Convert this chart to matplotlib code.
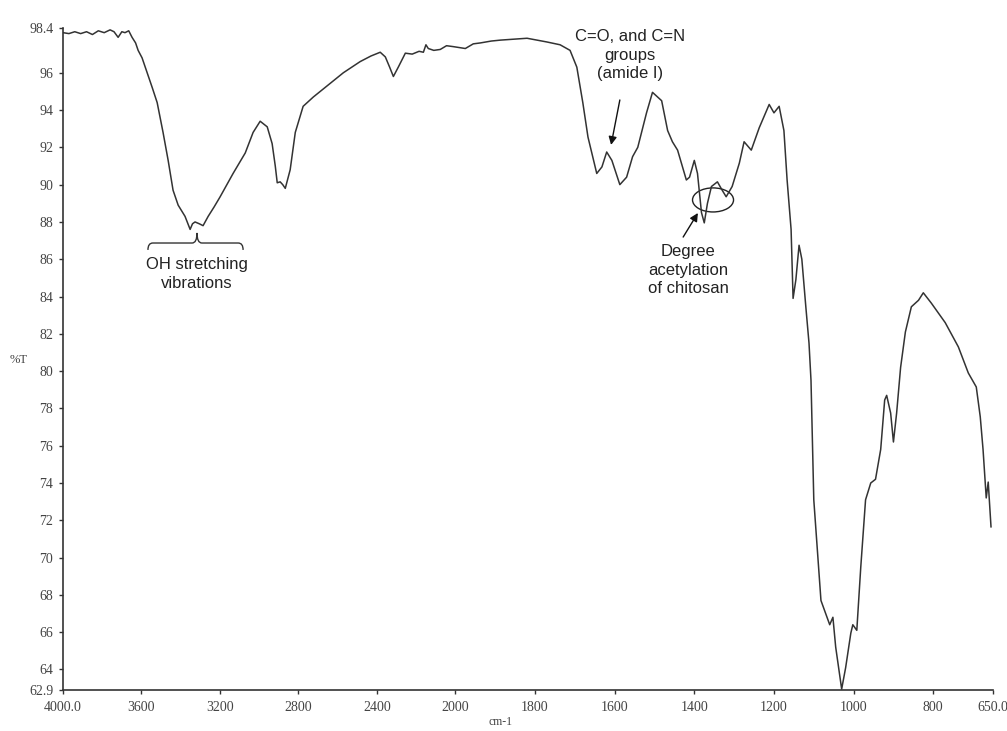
import numpy as np
import matplotlib
matplotlib.use('Agg')
from matplotlib import pyplot as plt
from matplotlib.patches import Ellipse, PathPatch
from matplotlib.path import Path

# FTIR spectrum of chitosan, transmittance vs wavenumber
wavenumber = [4000, 3970, 3940, 3910, 3880, 3850, 3820, 3790, 3760, 3740,
              3719, 3700, 3684, 3665, 3648, 3630, 3617, 3597, 3571, 3545,
              3520, 3490, 3464, 3439, 3413, 3378, 3352, 3340, 3327, 3305,
              3286, 3260, 3230, 3199, 3133, 3071, 3031, 2995, 2959, 2934,
              2918, 2908, 2893, 2880, 2867, 2842, 2816, 2776, 2724, 2653,
              2571, 2485, 2430, 2383, 2357, 2335, 2316, 2291, 2255, 2220,
              2185, 2163, 2150, 2138, 2110, 2077, 2045, 2010, 1990, 1975,
              1955, 1937, 1910, 1887, 1855, 1820, 1795, 1770, 1737, 1712,
              1695, 1680, 1667, 1645, 1632, 1620, 1607, 1587, 1570, 1555,
              1542, 1520, 1505, 1482, 1467, 1455, 1442, 1420, 1412, 1400,
              1392, 1382, 1375, 1367, 1357, 1342, 1330, 1320, 1305, 1287,
              1275, 1257, 1237, 1212, 1200, 1187, 1175, 1167, 1157, 1152,
              1145, 1137, 1130, 1120, 1112, 1107, 1100, 1082, 1070, 1060,
              1052, 1045, 1030, 1020, 1007, 1002, 992, 982, 970, 957,
              945, 932, 922, 917, 907, 900, 892, 882, 870, 855,
              837, 825, 805, 770, 737, 712, 692, 682, 675, 667,
              662, 655]
transmittance = [98.15, 98.10, 98.20, 98.10, 98.20, 98.05, 98.25, 98.15, 98.30, 98.20,
                 97.90, 98.20, 98.15, 98.25, 97.90, 97.60, 97.20, 96.80, 96.00, 95.20,
                 94.40, 92.80, 91.30, 89.70, 88.90, 88.30, 87.60, 87.90, 88.00, 87.90,
                 87.80, 88.30, 88.80, 89.35, 90.60, 91.70, 92.80, 93.40, 93.10, 92.20,
                 91.00, 90.10, 90.15, 90.00, 89.80, 90.80, 92.80, 94.20, 94.70, 95.30,
                 96.00, 96.60, 96.90, 97.10, 96.85, 96.30, 95.80, 96.30, 97.05, 97.00,
                 97.15, 97.10, 97.50, 97.30, 97.20, 97.25, 97.45, 97.40, 97.35, 97.30,
                 97.55, 97.60, 97.70, 97.75, 97.80, 97.85, 97.75, 97.65, 97.50, 97.20,
                 96.30, 94.40, 92.55, 90.60, 90.95, 91.75, 91.30, 90.00, 90.40, 91.50,
                 92.00, 93.85, 94.95, 94.50, 92.90, 92.30, 91.85, 90.25, 90.40, 91.30,
                 90.60, 88.50, 87.95, 89.00, 89.90, 90.15, 89.70, 89.35, 89.90, 91.15,
                 92.30, 91.85, 93.05, 94.30, 93.85, 94.20, 92.90, 90.25, 87.60, 83.90,
                 84.90, 86.75, 86.00, 83.45, 81.50, 79.50, 73.10, 67.70, 67.00, 66.40,
                 66.80, 65.20, 62.95, 64.10, 65.95, 66.40, 66.10, 69.50, 73.10, 74.00,
                 74.20, 75.80, 78.45, 78.70, 77.75, 76.20, 77.75, 80.20, 82.10, 83.45,
                 83.80, 84.20, 83.65, 82.60, 81.30, 79.90, 79.15, 77.55, 75.80, 73.20,
                 74.05, 71.65]

xticks = [4000, 3600, 3200, 2800, 2400, 2000, 1800, 1600, 1400, 1200, 1000, 800, 650]
xtick_labels = ['4000.0', '3600', '3200', '2800', '2400', '2000', '1800', '1600',
                '1400', '1200', '1000', '800', '650.0']
yticks = [98.4, 96, 94, 92, 90, 88, 86, 84, 82, 80, 78, 76, 74, 72, 70, 68, 66, 64, 62.9]
ytick_labels = ['98.4', '96', '94', '92', '90', '88', '86', '84', '82', '80', '78', '76',
                '74', '72', '70', '68', '66', '64', '62.9']

# the instrument expands the scale below 2000 cm-1
BREAK = 2000.0
EXPAND = 2.03


def _fwd(w):
    w = np.asarray(w, dtype=float)
    return np.where(w >= BREAK, w - BREAK, EXPAND * (w - BREAK))


def _inv(u):
    u = np.asarray(u, dtype=float)
    return np.where(u >= 0, u + BREAK, u / EXPAND + BREAK)


serif = 'Liberation Serif'
sans = 'Liberation Sans'
tick_color = '#444444'

fig = plt.figure(figsize=(10.07, 7.31), dpi=100)
ax = fig.add_axes([63 / 1007, 41 / 731, 930 / 1007, 662 / 731])
ax.set_xscale('function', functions=(_fwd, _inv))

ax.plot(wavenumber, transmittance, color='#333333', lw=1.1)

ax.set_xlim(4000, 650)
ax.set_ylim(62.9, 98.4)
ax.set_xticks(xticks)
ax.set_xticklabels(xtick_labels)
ax.set_yticks(yticks)
ax.set_yticklabels(ytick_labels)
ax.xaxis.set_minor_locator(matplotlib.ticker.NullLocator())

for side in ('top', 'right'):
    ax.spines[side].set_visible(False)
for side in ('left', 'bottom'):
    ax.spines[side].set_linewidth(1.2)
    ax.spines[side].set_color('#333333')

ax.tick_params(axis='both', direction='out', length=3, width=1, color='#333333',
               labelcolor=tick_color, labelsize=10)
ax.tick_params(axis='x', pad=5)
ax.tick_params(axis='y', pad=4)
for lab in ax.get_xticklabels() + ax.get_yticklabels():
    lab.set_family(serif)

ax.set_ylabel('%T', rotation=0, family=serif, fontsize=9, color=tick_color)
ax.yaxis.set_label_coords(-0.048, 0.49)
ax.set_xlabel('cm-1', family=serif, fontsize=8.5, color=tick_color, va='center')
ax.xaxis.set_label_coords(0.47, -0.048)

# annotations
txt = dict(family=sans, fontsize=12, color='#222222', ha='center', va='center',
           multialignment='center', linespacing=1.3)
arrow = dict(arrowstyle='-|>', color='#111111', lw=1.0, mutation_scale=12,
             shrinkA=0, shrinkB=0)

ax.text(1562, 96.95, 'C=O, and C=N\ngroups\n(amide I)', **txt)
ax.annotate('', xy=(1609, 92.13), xytext=(1587, 94.54), arrowprops=arrow)

ax.text(1416, 85.42, 'Degree\nacetylation\nof chitosan', **txt)
ax.annotate('', xy=(1391, 88.48), xytext=(1428, 87.19), arrowprops=arrow)
ax.add_patch(Ellipse((1353, 89.18), 103, 1.29, fill=False, ec='#222222', lw=1.0))

ax.text(3317, 85.21, 'OH stretching\nvibrations', **txt)

# curly brace under the OH band
bx0, bxm, bx1 = 3567, 3317, 3082
by_low, by_mid, by_top = 86.50, 86.87, 87.41
d = 25
verts = [(bx0, by_low), (bx0, by_mid), (bx0 - d, by_mid),
         (bxm + d, by_mid),
         (bxm, by_mid), (bxm, by_top),
         (bxm, by_mid), (bxm - d, by_mid),
         (bx1 + d, by_mid),
         (bx1, by_mid), (bx1, by_low)]
codes = [Path.MOVETO, Path.CURVE3, Path.CURVE3,
         Path.LINETO,
         Path.CURVE3, Path.CURVE3,
         Path.CURVE3, Path.CURVE3,
         Path.LINETO,
         Path.CURVE3, Path.CURVE3]
ax.add_patch(PathPatch(Path(verts, codes), fill=False, ec='#333333', lw=1.0))

fig.savefig('out.png', dpi=100)
